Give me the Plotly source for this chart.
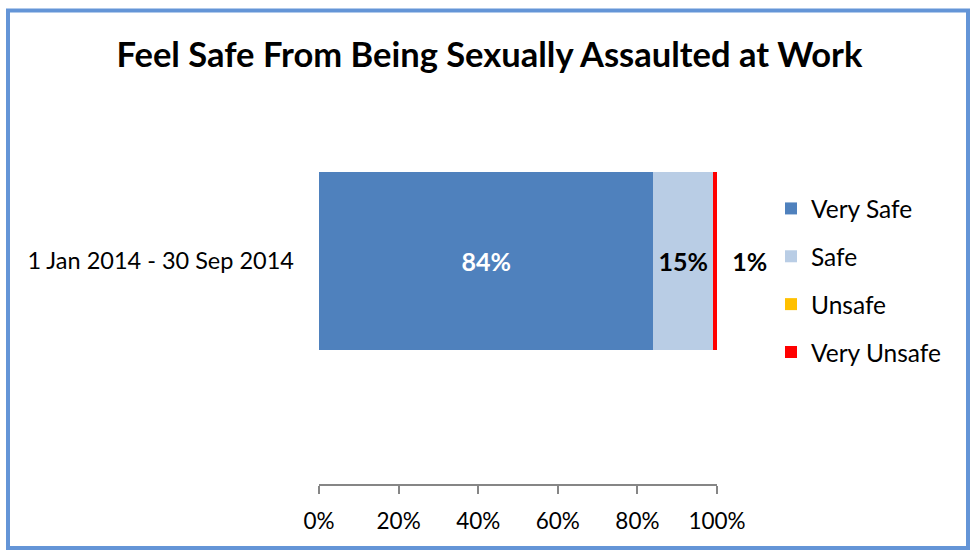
import plotly.graph_objects as go

# Survey responses for the period
period = ["1 Jan 2014 - 30 Sep 2014"]
series_names = ["Very Safe", "Safe", "Unsafe", "Very Unsafe"]
series_values = [[0.84], [0.15], [0.0], [0.01]]
series_colors = ["#4F81BD", "#B9CDE5", "#FFC000", "#FF0000"]
label_colors = ["white", "black", "black", "black"]
tick_vals = [0, 0.2, 0.4, 0.6, 0.8, 1.0]
tick_text = ["0%", "20%", "40%", "60%", "80%", "100%"]

FONT = "Lato"
W, H = 973, 550
L, R, T, B = 319, 256, 38, 66
pw, ph = W - L - R, H - T - B

fig = go.Figure()
last = len(series_names) - 1
for i, (name, vals, col, lc) in enumerate(zip(series_names, series_values, series_colors, label_colors)):
    pad = "\u00a0\u00a0" if i == last else ""
    texts = [f"{pad}{round(v*100)}%" if v > 0 else "" for v in vals]
    fig.add_trace(go.Bar(
        y=[0], x=vals, name=name, orientation="h",
        marker=dict(color=col, line=dict(width=0)),
        width=0.4,
        text=texts, texttemplate="%{text}",
        textposition="outside" if i == last else "inside",
        insidetextanchor="middle",
        textfont=dict(family=FONT, size=25, color=lc, weight="bold"),
        outsidetextfont=dict(family=FONT, size=25, color="black", weight="bold"),
        cliponaxis=False,
        legendgroup=name,
        hoverinfo="skip",
    ))

def px_x(p):
    return (p - L) / pw

def px_y(p):
    return (H - B - p) / ph

fig.update_layout(
    width=W, height=H,
    margin=dict(l=L, r=R, t=T, b=B, autoexpand=False),
    barmode="stack",
    paper_bgcolor="white", plot_bgcolor="white",
    font=dict(family=FONT, size=22, color="black"),
    title=dict(text="<b>Feel Safe From Being Sexually Assaulted at Work</b>",
               x=489.5 / W, xref="container", xanchor="center",
               y=1 - 55 / H, yref="container", yanchor="middle",
               font=dict(family=FONT, size=34.5, color="black")),
    showlegend=True,
    legend=dict(x=px_x(771), y=px_y(186), xanchor="left", yanchor="top",
                orientation="v", traceorder="grouped", tracegroupgap=13,
                font=dict(family=FONT, size=24.5), bgcolor="rgba(0,0,0,0)",
                itemwidth=30, itemsizing="constant"),
    uniformtext=dict(mode=False),
    xaxis=dict(range=[0, 1], tickvals=tick_vals, ticktext=tick_text,
               showgrid=False, zeroline=False, showline=True,
               linecolor="#868686", linewidth=1.5,
               ticks="outside", ticklen=8, tickwidth=1.5, tickcolor="#868686",
               ticklabelstandoff=8, tickfont=dict(family=FONT, size=22.5),
               fixedrange=True),
    yaxis=dict(range=[-0.5, 0.5], tickvals=[0], ticktext=period,
               showgrid=False, zeroline=False, showline=False,
               ticks="", ticklabelstandoff=24,
               tickfont=dict(family=FONT, size=23.5), fixedrange=True),
    shapes=[dict(type="rect", xref="paper", yref="paper",
                 x0=px_x(8), x1=px_x(968), y0=px_y(10.5), y1=px_y(548),
                 line=dict(color="#6495D7", width=4), fillcolor="rgba(0,0,0,0)",
                 layer="above")],
)

fig.write_html("out.html")
